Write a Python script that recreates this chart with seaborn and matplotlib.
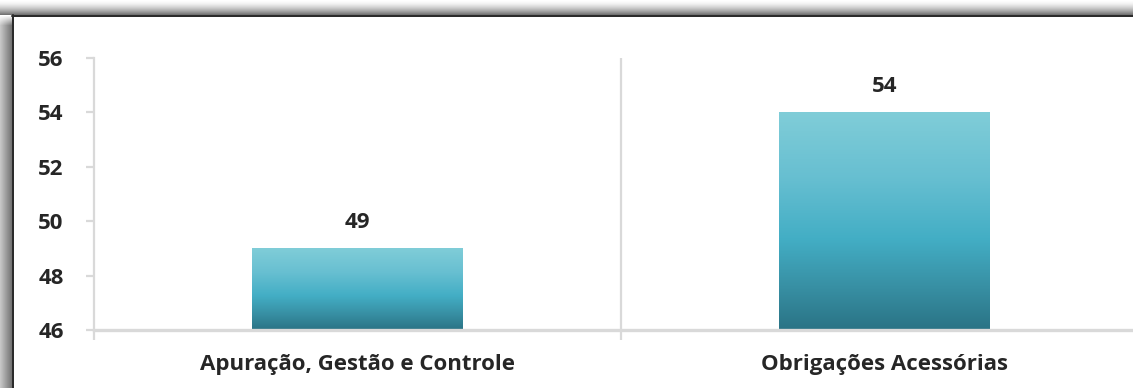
import numpy as np
import pandas as pd
import matplotlib
matplotlib.use("Agg")
import matplotlib.pyplot as plt
import seaborn as sns
from matplotlib.colors import LinearSegmentedColormap
from matplotlib.lines import Line2D

# Chart data
categories = ["Apuração, Gestão e Controle", "Obrigações Acessórias"]
values = [49, 54]
y_ticks = [46, 48, 50, 52, 54, 56]

sns.set_theme(style="white")
plt.rcParams["font.family"] = ["Open Sans", "DejaVu Sans"]

W, H = 1133, 388
fig = plt.figure(figsize=(W / 100, H / 100), dpi=100)

# Drop shadow strips above and to the left of the panel
top_rows = np.arange(15)[:, None] / 14.0
top_strip = np.repeat((1 - 0.55 * top_rows ** 1.6)[..., None], 3, axis=2)
top_strip = np.broadcast_to(top_strip, (15, W, 3)).copy()
fig.figimage(top_strip, xo=0, yo=H - 15, origin="upper", zorder=0)

left_cols = np.arange(12)[None, :] / 11.0
fade = np.clip(np.arange(H - 15)[:, None] / 10.0, 0, 1)
left_strip = 1 - (1 - (0.78 - 0.32 * left_cols)) * fade
left_strip = np.repeat(left_strip[..., None], 3, axis=2)
fig.figimage(left_strip, xo=0, yo=0, origin="upper", zorder=0)

# Dark panel border on the top and left edges
px = fig.dpi / 72.0
fig.add_artist(Line2D([12 / W, 1], [1 - 16 / H, 1 - 16 / H], color="#2B2B2B",
                      lw=2 / px, transform=fig.transFigure, zorder=2))
fig.add_artist(Line2D([13 / W, 13 / W], [0, 1 - 15 / H], color="#2B2B2B",
                      lw=2 / px, transform=fig.transFigure, zorder=2))

# Plot area: each category slot is 527 px wide, the second one runs past the panel edge
slot = 527.0
ax_left, ax_right = 94, W
x_max = -0.5 + (ax_right - ax_left) / slot
ax = fig.add_axes([ax_left / W, (H - 330) / H, (ax_right - ax_left) / W, 272 / H], zorder=1)
ax.set_facecolor("none")

df = pd.DataFrame({"categoria": categories, "valor": values})
sns.barplot(data=df, x="categoria", y="valor", width=0.4, ax=ax,
            color="#45AFC6", saturation=1, edgecolor="none", zorder=3)

# Vertical gradient inside each bar
teal = LinearSegmentedColormap.from_list(
    "teal", [(0.0, "#2A7385"), (0.2, "#3890A4"), (0.42, "#43AEC5"),
             (0.7, "#67BFD1"), (1.0, "#80CDD8")])
grad = np.linspace(0, 1, 256)[:, None]
for bar in list(ax.patches):
    x0, w, h = bar.get_x(), bar.get_width(), bar.get_height()
    top = bar.get_y() + h
    im = ax.imshow(grad, cmap=teal, origin="lower", aspect="auto",
                   extent=[x0, x0 + w, 46, top], zorder=3)
    im.set_clip_path(bar)
    bar.set_facecolor("none")

ax.set_ylim(46, 56)
ax.set_xlim(-0.5, x_max)

# Value labels
for i, v in enumerate(values):
    ax.annotate(f"{v}", (i, v), xytext=(0, 11), textcoords="offset points",
                ha="center", va="bottom", fontsize=16, fontweight="bold",
                color="#262626", zorder=4)

grid_color = "#D9D9D9"
for side in ["top", "right"]:
    ax.spines[side].set_visible(False)
ax.spines["left"].set_color(grid_color)
ax.spines["left"].set_linewidth(1.6)
ax.spines["bottom"].set_color(grid_color)
ax.spines["bottom"].set_linewidth(2.4)
ax.spines["bottom"].set_zorder(5)

ax.axvline(0.5, color=grid_color, lw=1.6, zorder=1)

ax.set_yticks(y_ticks)
ax.set_yticklabels([str(t) for t in y_ticks], fontsize=16, fontweight="bold",
                   color="#262626")
ax.tick_params(axis="y", left=True, length=5.8, width=1.6, color=grid_color,
               pad=16, direction="out")

ax.set_xticks([0, 1])
ax.set_xticklabels(categories, fontsize=16, fontweight="bold", color="#262626")
ax.set_xticks([-0.5, 0.5], minor=True)
ax.tick_params(axis="x", which="major", bottom=False, length=0, pad=17)
ax.tick_params(axis="x", which="minor", bottom=True, length=7.2, width=1.6,
               color=grid_color, direction="out")

ax.set_xlabel("")
ax.set_ylabel("")

fig.savefig("out.png", dpi=100)
